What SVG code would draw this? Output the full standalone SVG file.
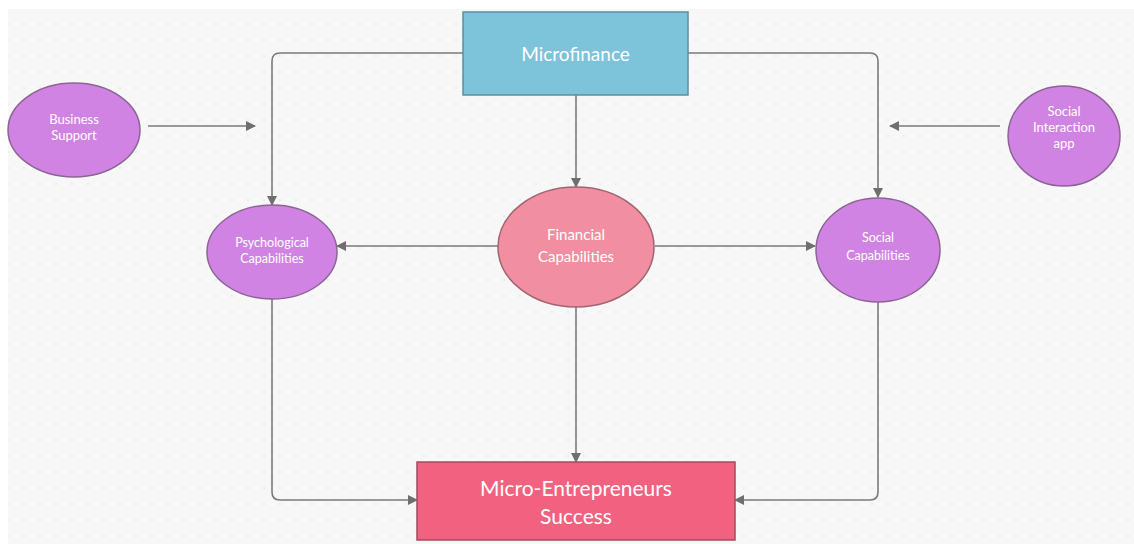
<svg xmlns="http://www.w3.org/2000/svg" width="1134" height="544" viewBox="0 0 1134 544">
<defs>
<pattern id="dots" width="16" height="16" patternUnits="userSpaceOnUse">
<rect width="16" height="16" fill="#f7f7f8"/>
<circle cx="8" cy="8" r="0.9" fill="#e2e2e6"/>
</pattern>
<marker id="ah" viewBox="0 0 10 10" refX="9" refY="5" markerWidth="10" markerHeight="10" markerUnits="userSpaceOnUse" orient="auto">
<path d="M0,0 L10,5 L0,10 z" fill="#6f6f6f"/>
</marker>
<style>
.c{fill:none;stroke:#7a7a7a;stroke-width:1.6;marker-end:url(#ah)}
.p{fill:#d183e4;stroke:#8b6494;stroke-width:1.5}
.t{font-family:Lato,"Open Sans","Liberation Sans",sans-serif;fill:#ffffff;text-anchor:middle}
</style>
</defs>
<rect width="1134" height="544" fill="#ffffff"/>
<rect x="8" y="9" width="1126" height="535" fill="url(#dots)"/>
<g id="connectors">
<path class="c" d="M463,53 H280 Q272,53 272,61 V205"/>
<path class="c" d="M688,53 H870 Q878,53 878,61 V197"/>
<path class="c" d="M576,95 V187"/>
<path class="c" d="M148,126 H255"/>
<path class="c" d="M1000,126 H890"/>
<path class="c" d="M498,246 H337"/>
<path class="c" d="M655,246 H815"/>
<path class="c" d="M576,307 V462"/>
<path class="c" d="M272,299 V492 Q272,500 280,500 H417"/>
<path class="c" d="M878,302 V492 Q878,500 870,500 H735"/>
</g>
<g id="microfinance">
<rect x="463" y="12" width="225" height="83" fill="#7dc3da" stroke="#5c8fa0" stroke-width="1.5"/>
<text class="t" x="575.5" y="61" font-size="19">Microfinance</text>
</g>
<g id="business-support">
<ellipse class="p" cx="74" cy="130" rx="66" ry="47"/>
<text class="t" x="74" y="124" font-size="13">Business</text>
<text class="t" x="74" y="140" font-size="13">Support</text>
</g>
<g id="social-interaction-app">
<ellipse class="p" cx="1064" cy="136" rx="56" ry="50"/>
<text class="t" x="1064" y="116" font-size="13">Social</text>
<text class="t" x="1064" y="132" font-size="13">Interaction</text>
<text class="t" x="1064" y="148" font-size="13">app</text>
</g>
<g id="psychological-capabilities">
<ellipse class="p" cx="272" cy="252" rx="65" ry="47"/>
<text class="t" x="272" y="247" font-size="12.5">Psychological</text>
<text class="t" x="272" y="263" font-size="12.5">Capabilities</text>
</g>
<g id="financial-capabilities">
<ellipse cx="576" cy="247" rx="78" ry="60" fill="#f18ea2" stroke="#a06470" stroke-width="1.5"/>
<text class="t" x="576" y="240" font-size="15">Financial</text>
<text class="t" x="576" y="262" font-size="15">Capabilities</text>
</g>
<g id="social-capabilities">
<ellipse class="p" cx="878" cy="250" rx="62" ry="52"/>
<text class="t" x="878" y="242" font-size="12.5">Social</text>
<text class="t" x="878" y="260" font-size="12.5">Capabilities</text>
</g>
<g id="micro-entrepreneurs-success">
<rect x="417" y="462" width="318" height="78" fill="#f2617f" stroke="#a04d5d" stroke-width="1.5"/>
<text class="t" x="576" y="496" font-size="21">Micro-Entrepreneurs</text>
<text class="t" x="576" y="524" font-size="21">Success</text>
</g>
</svg>
